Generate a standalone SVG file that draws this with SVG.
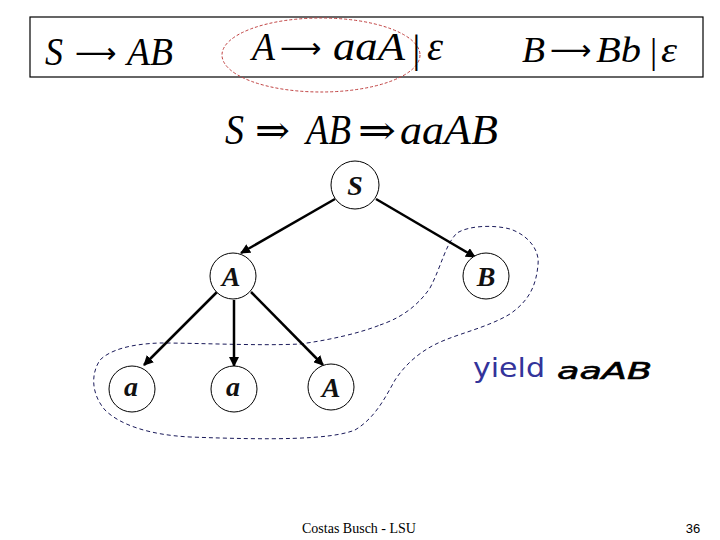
<svg xmlns="http://www.w3.org/2000/svg" width="720" height="540" viewBox="0 0 720 540">
<defs>
<marker id="ah" markerWidth="10" markerHeight="10" refX="9" refY="5" orient="auto" markerUnits="userSpaceOnUse" viewBox="0 0 10 10">
<path d="M0,0 L10,5 L0,10 z" fill="#000"/>
</marker>
<style>
.m{font-family:"Liberation Serif","Times New Roman",serif;font-style:italic;fill:#000}
.ar{font-family:"Liberation Serif","DejaVu Serif",serif;font-style:normal;fill:#000}
.la{font-family:"DejaVu Sans",sans-serif;font-style:normal;fill:#000}
.nd{fill:#fff;stroke:#000;stroke-width:1}
.nl{font-family:"Liberation Serif","Times New Roman",serif;font-style:italic;font-weight:bold;font-size:28px;text-anchor:middle;fill:#111}
.e{stroke:#000;stroke-width:2.5;fill:none;marker-end:url(#ah)}
</style>
</defs>
<rect width="720" height="540" fill="#fff"/>
<rect x="30" y="17" width="673" height="60" fill="none" stroke="#000" stroke-width="1.2"/>
<ellipse cx="321" cy="55" rx="99" ry="37" fill="none" stroke="#c04040" stroke-width="1" stroke-dasharray="3,2"/>
<g id="rule1">
<text class="m" x="45" y="65" font-size="41" textLength="18" lengthAdjust="spacingAndGlyphs">S</text>
<text class="la" x="75" y="63" font-size="29">⟶</text>
<text class="m" x="127" y="65" font-size="41" textLength="46" lengthAdjust="spacingAndGlyphs">AB</text>
</g>
<g id="rule2">
<text class="m" x="252" y="60" font-size="41" textLength="23" lengthAdjust="spacingAndGlyphs">A</text>
<text class="la" x="280" y="58" font-size="29">⟶</text>
<text class="m" x="333" y="60" font-size="41" textLength="72" lengthAdjust="spacingAndGlyphs">aaA</text>
<text class="m" x="410" y="62" font-size="41" font-style="normal">|</text>
<text class="m" x="427" y="60" font-size="41" textLength="16" lengthAdjust="spacingAndGlyphs">ε</text>
</g>
<g id="rule3">
<text class="m" x="522" y="62" font-size="36" textLength="23" lengthAdjust="spacingAndGlyphs">B</text>
<text class="la" x="550" y="60" font-size="29">⟶</text>
<text class="m" x="596" y="62" font-size="36" textLength="45" lengthAdjust="spacingAndGlyphs">Bb</text>
<text class="m" x="648" y="63" font-size="36" font-style="normal">|</text>
<text class="m" x="661" y="62" font-size="36" textLength="16" lengthAdjust="spacingAndGlyphs">ε</text>
</g>
<g id="derivation">
<text class="m" x="225" y="144" font-size="43" textLength="19" lengthAdjust="spacingAndGlyphs">S</text>
<text class="ar" x="255" y="144" font-size="40" textLength="35" lengthAdjust="spacingAndGlyphs">⇒</text>
<text class="m" x="306" y="144" font-size="43" textLength="45" lengthAdjust="spacingAndGlyphs">AB</text>
<text class="ar" x="358" y="144" font-size="40" textLength="38" lengthAdjust="spacingAndGlyphs">⇒</text>
<text class="m" x="400" y="144" font-size="43" textLength="98" lengthAdjust="spacingAndGlyphs">aaAB</text>
</g>
<path d="M380,325 C395,320 415,310 430,288 C442,265 445,245 457,233 C470,225 495,225 510,229 C528,235 540,250 538,265 C536,285 530,300 510,314 C490,326 465,332 445,340 C420,350 405,365 395,380 C385,398 375,418 355,430 C330,440 270,440 190,437 C150,435 120,425 105,410 C92,395 90,375 100,360 C110,350 130,344 160,343 C200,343 260,346 300,344 C330,340 360,333 380,325 Z" fill="none" stroke="#1a1a5a" stroke-width="1" stroke-dasharray="4,3"/>
<g id="edges">
<line class="e" x1="335" y1="199" x2="241" y2="253"/>
<line class="e" x1="376" y1="199" x2="475" y2="257"/>
<line class="e" x1="217" y1="292" x2="144" y2="365"/>
<line class="e" x1="234" y1="300" x2="234" y2="366"/>
<line class="e" x1="251" y1="292" x2="323" y2="365"/>
</g>
<g id="nS"><circle class="nd" cx="355" cy="185" r="24"/><text class="nl" x="355" y="195">S</text></g>
<g id="nA"><circle class="nd" cx="233" cy="276" r="23"/><text class="nl" x="231" y="286">A</text></g>
<g id="nB"><circle class="nd" cx="486" cy="276" r="23"/><text class="nl" x="486" y="286">B</text></g>
<g id="na1"><circle class="nd" cx="132" cy="389" r="23"/><text class="nl" x="131" y="396" font-size="32">a</text></g>
<g id="na2"><circle class="nd" cx="234" cy="389" r="23"/><text class="nl" x="233" y="396" font-size="32">a</text></g>
<g id="nA2"><circle class="nd" cx="331" cy="387" r="23"/><text class="nl" x="331" y="397">A</text></g>
<text x="473" y="377" font-family="'DejaVu Sans',sans-serif" font-size="27" fill="#33339a" textLength="72" lengthAdjust="spacingAndGlyphs">yield</text>
<text x="557" y="379" font-family="'DejaVu Sans',sans-serif" font-style="italic" font-size="23" fill="#000" stroke="#000" stroke-width="0.6" textLength="95" lengthAdjust="spacingAndGlyphs">aaAB</text>
<text x="359" y="533" font-family="'Liberation Serif',serif" font-size="14" text-anchor="middle" fill="#000">Costas Busch - LSU</text>
<text x="693" y="533" font-family="'Liberation Sans',sans-serif" font-size="13" text-anchor="middle" fill="#000">36</text>
</svg>
